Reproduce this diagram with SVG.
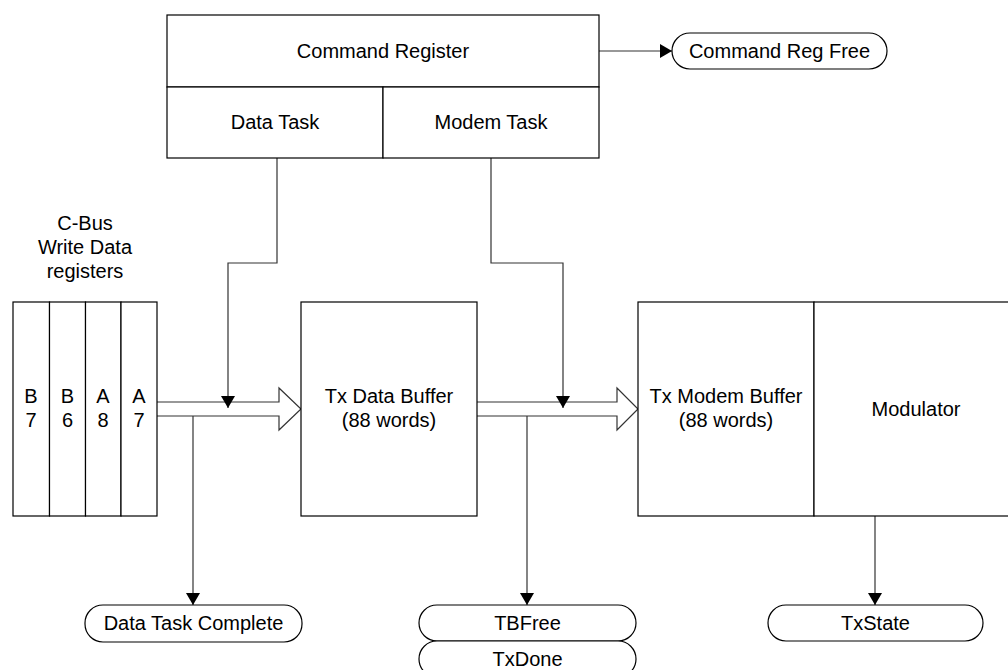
<svg xmlns="http://www.w3.org/2000/svg" width="1008" height="670" viewBox="0 0 1008 670">
<style>
.box{fill:#fff;stroke:#000;stroke-width:1.2}
.ln{fill:none;stroke:#333;stroke-width:1.2}
.blk{fill:#fff;stroke:#333;stroke-width:1.2}
text{font-family:"Liberation Sans",Arial,sans-serif;font-size:20px;fill:#000;text-anchor:middle}
</style>
<defs>
<marker id="ah" viewBox="0 0 12 14" refX="12" refY="7" markerWidth="12" markerHeight="14" markerUnits="userSpaceOnUse" orient="auto">
<path d="M0,0 L12,7 L0,14 Z" fill="#000"/>
</marker>
</defs>
<rect width="1008" height="670" fill="#fff"/>
<g id="connectors">
<path class="blk" d="M157,402 H279 V388 L301,409 L279,430 V416 H157"/>
<path class="blk" d="M477,402 H617 V388 L638,409 L617,430 V416 H477"/>
<path class="ln" d="M599,51 H672" marker-end="url(#ah)"/>
<path class="ln" d="M277,158 V263 H228 V408" marker-end="url(#ah)"/>
<path class="ln" d="M491,158 V263 H563 V408" marker-end="url(#ah)"/>
<path class="ln" d="M193,416 V605" marker-end="url(#ah)"/>
<path class="ln" d="M527,416 V605" marker-end="url(#ah)"/>
<path class="ln" d="M875,516 V605" marker-end="url(#ah)"/>
</g>
<g id="command-register">
<rect class="box" x="167" y="15" width="432" height="72"/>
<text x="383" y="58">Command Register</text>
</g>
<g id="data-task">
<rect class="box" x="167" y="87" width="216" height="71"/>
<text x="275" y="129">Data Task</text>
</g>
<g id="modem-task">
<rect class="box" x="383" y="87" width="216" height="71"/>
<text x="491" y="129">Modem Task</text>
</g>
<g id="command-reg-free">
<rect class="box" x="672" y="33" width="215" height="36" rx="18" ry="18"/>
<text x="779.5" y="58">Command Reg Free</text>
</g>
<g id="cbus-label">
<text x="85" y="230">C-Bus</text>
<text x="85" y="254">Write Data</text>
<text x="85" y="278">registers</text>
</g>
<g id="registers">
<rect class="box" x="13" y="302" width="36.5" height="214"/>
<rect class="box" x="49.5" y="302" width="36" height="214"/>
<rect class="box" x="85.5" y="302" width="35.5" height="214"/>
<rect class="box" x="121" y="302" width="36" height="214"/>
<text x="31" y="403">B</text><text x="31" y="427">7</text>
<text x="67.5" y="403">B</text><text x="67.5" y="427">6</text>
<text x="103" y="403">A</text><text x="103" y="427">8</text>
<text x="139" y="403">A</text><text x="139" y="427">7</text>
</g>
<g id="tx-data-buffer">
<rect class="box" x="301" y="302" width="176" height="214"/>
<text x="389" y="403">Tx Data Buffer</text>
<text x="389" y="427">(88 words)</text>
</g>
<g id="tx-modem-buffer">
<rect class="box" x="638" y="302" width="176" height="214"/>
<text x="726" y="403">Tx Modem Buffer</text>
<text x="726" y="427">(88 words)</text>
</g>
<g id="modulator">
<rect class="box" x="814" y="302" width="204" height="214"/>
<text x="916" y="416">Modulator</text>
</g>
<g id="data-task-complete">
<rect class="box" x="85" y="605" width="217" height="37" rx="18" ry="18"/>
<text x="193.5" y="630">Data Task Complete</text>
</g>
<g id="tbfree">
<rect class="box" x="419" y="605" width="217" height="36" rx="18" ry="18"/>
<text x="527.5" y="630">TBFree</text>
</g>
<g id="txdone">
<rect class="box" x="419" y="641" width="217" height="36" rx="18" ry="18"/>
<text x="527.5" y="666">TxDone</text>
</g>
<g id="txstate">
<rect class="box" x="768" y="605" width="215" height="36" rx="18" ry="18"/>
<text x="875.5" y="630">TxState</text>
</g>
</svg>
